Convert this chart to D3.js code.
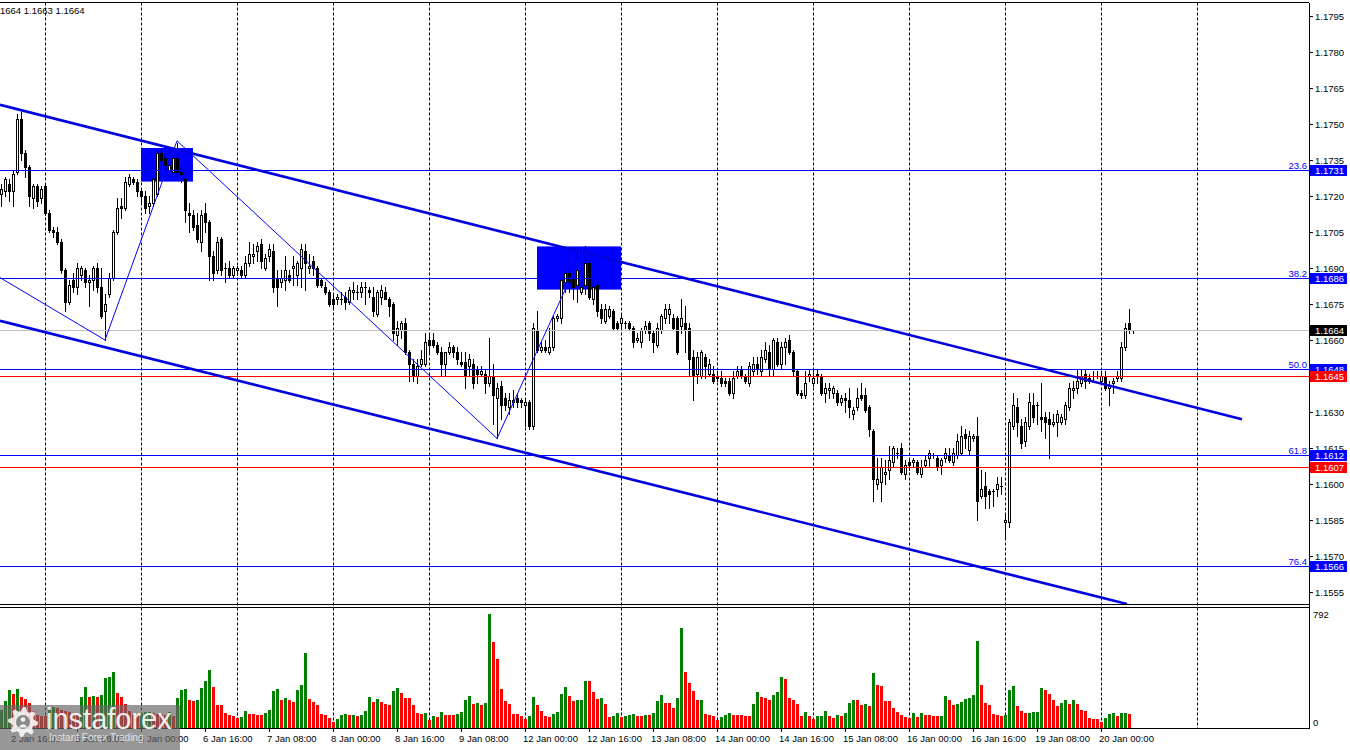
<!DOCTYPE html>
<html><head><meta charset="utf-8">
<script src="https://cdn.jsdelivr.net/npm/d3@7"></script>
<style>html,body{margin:0;padding:0;background:#fff;overflow:hidden}svg{display:block}text{font-family:"Liberation Sans",Arial,sans-serif}</style>
</head><body><svg id="c" width="1350" height="750"></svg>
<script>
// ---- DATA (EURUSD H1) ----
const open = [1.1721,1.1722,1.1725,1.1722,1.1730,1.1752,1.1738,1.1732,1.1719,1.1724,
1.1719,1.1724,1.1713,1.1706,1.1705,1.1701,1.1689,1.1676,1.1685,1.1682,
1.1687,1.1689,1.1684,1.1685,1.1690,1.1682,1.1672,1.1679,1.1686,1.1705,
1.1716,1.1715,1.1725,1.1727,1.1726,1.1722,1.1720,1.1716,1.1717,1.1721,
1.1738,1.1736,1.1731,1.1730,1.1736,1.1730,1.1727,1.1713,1.1712,1.1708,
1.1701,1.1713,1.1709,1.1695,1.1689,1.1702,1.1690,1.1690,1.1687,1.1689,
1.1689,1.1687,1.1692,1.1695,1.1697,1.1700,1.1690,1.1695,1.1697,1.1686,
1.1684,1.1685,1.1687,1.1690,1.1687,1.1690,1.1697,1.1690,1.1693,1.1690,
1.1685,1.1682,1.1680,1.1677,1.1677,1.1677,1.1678,1.1676,1.1680,1.1680,
1.1680,1.1682,1.1681,1.1678,1.1671,1.1678,1.1680,1.1677,1.1675,1.1662,
1.1664,1.1667,1.1655,1.1650,1.1645,1.1650,1.1650,1.1660,1.1660,1.1658,
1.1655,1.1650,1.1655,1.1657,1.1655,1.1651,1.1651,1.1649,1.1650,1.1648,
1.1646,1.1646,1.1642,1.1645,1.1636,1.1641,1.1636,1.1632,1.1634,1.1636,
1.1635,1.1633,1.1634,1.1624,1.1664,1.1656,1.1657,1.1655,1.1657,1.1669,
1.1669,1.1684,1.1688,1.1686,1.1683,1.1680,1.1683,1.1692,1.1677,1.1683,
1.1673,1.1668,1.1670,1.1672,1.1667,1.1667,1.1667,1.1667,1.1665,1.1660,
1.1659,1.1664,1.1667,1.1663,1.1658,1.1664,1.1669,1.1671,1.1669,1.1669,
1.1666,1.1667,1.1665,1.1653,1.1646,1.1645,1.1653,1.1646,1.1646,1.1645,
1.1644,1.1643,1.1643,1.1638,1.1645,1.1648,1.1645,1.1642,1.1647,1.1650,
1.1647,1.1652,1.1655,1.1648,1.1659,1.1650,1.1657,1.1660,1.1655,1.1647,
1.1638,1.1637,1.1645,1.1642,1.1646,1.1645,1.1638,1.1639,1.1638,1.1638,
1.1634,1.1636,1.1635,1.1629,1.1632,1.1637,1.1637,1.1632,1.1622,1.1600,
1.1601,1.1604,1.1606,1.1609,1.1613,1.1615,1.1604,1.1609,1.1609,1.1609,
1.1604,1.1608,1.1611,1.1612,1.1611,1.1608,1.1611,1.1612,1.1609,1.1612,
1.1613,1.1621,1.1614,1.1619,1.1620,1.1595,1.1599,1.1597,1.1597,1.1598,
1.1599,1.1584,1.1584,1.1624,1.1632,1.1624,1.1618,1.1624,1.1633,1.1633,
1.1628,1.1628,1.1627,1.1625,1.1626,1.1626,1.1627,1.1632,1.1639,1.1640,
1.1642,1.1646,1.1644,1.1645,1.1645,1.1643,1.1645,1.1640,1.1642,1.1644,
1.1644,1.1657,1.1667,1.1664];
const high = [1.1725,1.1728,1.1727,1.1731,1.1754,1.1755,1.1739,1.1733,1.1725,1.1725,
1.1724,1.1725,1.1714,1.1707,1.1707,1.1702,1.1690,1.1685,1.1688,1.1692,
1.1691,1.1690,1.1687,1.1691,1.1692,1.1690,1.1679,1.1688,1.1706,1.1719,
1.1719,1.1728,1.1729,1.1728,1.1727,1.1723,1.1722,1.1720,1.1728,1.1739,
1.1740,1.1738,1.1736,1.1737,1.1742,1.1733,1.1728,1.1717,1.1714,1.1713,
1.1714,1.1717,1.1710,1.1697,1.1703,1.1703,1.1692,1.1693,1.1691,1.1691,
1.1691,1.1695,1.1701,1.1700,1.1701,1.1702,1.1696,1.1700,1.1700,1.1689,
1.1689,1.1695,1.1689,1.1695,1.1693,1.1700,1.1700,1.1696,1.1695,1.1691,
1.1686,1.1684,1.1681,1.1679,1.1679,1.1680,1.1680,1.1682,1.1684,1.1683,
1.1684,1.1684,1.1682,1.1682,1.1681,1.1683,1.1682,1.1678,1.1676,1.1668,
1.1668,1.1669,1.1656,1.1652,1.1652,1.1656,1.1663,1.1663,1.1663,1.1659,
1.1657,1.1655,1.1659,1.1658,1.1657,1.1655,1.1655,1.1654,1.1652,1.1649,
1.1649,1.1648,1.1661,1.1650,1.1642,1.1643,1.1638,1.1638,1.1639,1.1638,
1.1636,1.1636,1.1635,1.1667,1.1672,1.1659,1.1660,1.1665,1.1670,1.1671,
1.1686,1.1692,1.1696,1.1692,1.1697,1.1684,1.1699,1.1693,1.1685,1.1684,
1.1675,1.1675,1.1674,1.1673,1.1668,1.1671,1.1668,1.1668,1.1666,1.1663,
1.1665,1.1668,1.1668,1.1664,1.1667,1.1671,1.1675,1.1675,1.1671,1.1670,
1.1677,1.1674,1.1667,1.1656,1.1655,1.1656,1.1654,1.1652,1.1649,1.1647,
1.1647,1.1644,1.1644,1.1647,1.1649,1.1649,1.1646,1.1651,1.1653,1.1653,
1.1656,1.1659,1.1658,1.1661,1.1661,1.1659,1.1661,1.1662,1.1656,1.1648,
1.1639,1.1647,1.1648,1.1648,1.1648,1.1646,1.1642,1.1642,1.1641,1.1639,
1.1637,1.1638,1.1640,1.1632,1.1640,1.1642,1.1640,1.1633,1.1623,1.1611,
1.1611,1.1610,1.1616,1.1616,1.1615,1.1617,1.1610,1.1610,1.1611,1.1610,
1.1610,1.1612,1.1614,1.1613,1.1612,1.1611,1.1615,1.1615,1.1615,1.1621,
1.1624,1.1623,1.1622,1.1621,1.1628,1.1606,1.1605,1.1598,1.1598,1.1603,
1.1603,1.1588,1.1627,1.1638,1.1636,1.1627,1.1628,1.1638,1.1638,1.1634,
1.1642,1.1630,1.1630,1.1629,1.1631,1.1629,1.1634,1.1642,1.1643,1.1648,
1.1648,1.1648,1.1646,1.1647,1.1647,1.1647,1.1647,1.1643,1.1644,1.1647,
1.1659,1.1667,1.1673,1.1664];
const low = [1.1716,1.1720,1.1718,1.1716,1.1729,1.1735,1.1728,1.1716,1.1715,1.1716,
1.1717,1.1712,1.1705,1.1703,1.1700,1.1688,1.1672,1.1675,1.1680,1.1679,
1.1685,1.1682,1.1674,1.1681,1.1680,1.1669,1.1660,1.1678,1.1685,1.1704,
1.1711,1.1714,1.1724,1.1725,1.1720,1.1717,1.1713,1.1713,1.1716,1.1720,
1.1732,1.1731,1.1729,1.1729,1.1729,1.1726,1.1709,1.1705,1.1706,1.1701,
1.1697,1.1705,1.1685,1.1685,1.1688,1.1687,1.1684,1.1686,1.1686,1.1687,
1.1686,1.1686,1.1691,1.1692,1.1693,1.1690,1.1689,1.1693,1.1680,1.1674,
1.1682,1.1681,1.1684,1.1683,1.1683,1.1682,1.1681,1.1688,1.1687,1.1682,
1.1682,1.1679,1.1674,1.1673,1.1675,1.1675,1.1673,1.1675,1.1677,1.1677,
1.1678,1.1675,1.1678,1.1670,1.1670,1.1675,1.1677,1.1670,1.1660,1.1658,
1.1661,1.1654,1.1643,1.1643,1.1642,1.1649,1.1649,1.1654,1.1657,1.1654,
1.1645,1.1645,1.1654,1.1653,1.1650,1.1649,1.1640,1.1645,1.1640,1.1642,
1.1645,1.1638,1.1641,1.1625,1.1619,1.1627,1.1631,1.1629,1.1632,1.1632,
1.1632,1.1624,1.1623,1.1623,1.1655,1.1655,1.1655,1.1654,1.1656,1.1668,
1.1667,1.1680,1.1680,1.1677,1.1676,1.1679,1.1679,1.1677,1.1675,1.1670,
1.1667,1.1667,1.1669,1.1664,1.1664,1.1665,1.1665,1.1664,1.1657,1.1659,
1.1657,1.1663,1.1660,1.1655,1.1657,1.1663,1.1667,1.1667,1.1664,1.1654,
1.1663,1.1655,1.1645,1.1635,1.1642,1.1644,1.1644,1.1645,1.1642,1.1643,
1.1641,1.1641,1.1637,1.1636,1.1644,1.1644,1.1642,1.1641,1.1645,1.1646,
1.1645,1.1651,1.1645,1.1645,1.1649,1.1648,1.1650,1.1654,1.1645,1.1637,
1.1636,1.1636,1.1643,1.1641,1.1642,1.1637,1.1634,1.1636,1.1636,1.1633,
1.1633,1.1630,1.1628,1.1627,1.1631,1.1635,1.1630,1.1620,1.1593,1.1598,
1.1593,1.1600,1.1602,1.1607,1.1611,1.1604,1.1602,1.1606,1.1607,1.1604,
1.1603,1.1607,1.1607,1.1611,1.1606,1.1604,1.1609,1.1609,1.1608,1.1611,
1.1612,1.1615,1.1612,1.1618,1.1585,1.1594,1.1590,1.1590,1.1591,1.1595,
1.1596,1.1578,1.1582,1.1623,1.1620,1.1615,1.1616,1.1623,1.1626,1.1625,
1.1622,1.1619,1.1611,1.1624,1.1620,1.1625,1.1625,1.1631,1.1636,1.1638,
1.1641,1.1640,1.1642,1.1643,1.1644,1.1642,1.1639,1.1633,1.1638,1.1643,
1.1643,1.1656,1.1663,1.1663];
const close = [1.1723,1.1727,1.1722,1.1729,1.1752,1.1738,1.1732,1.1720,1.1724,1.1718,
1.1723,1.1713,1.1706,1.1705,1.1701,1.1689,1.1676,1.1683,1.1682,1.1690,
1.1690,1.1684,1.1685,1.1690,1.1682,1.1670,1.1675,1.1686,1.1705,1.1715,
1.1715,1.1726,1.1728,1.1726,1.1722,1.1720,1.1715,1.1717,1.1727,1.1738,
1.1735,1.1733,1.1733,1.1736,1.1730,1.1729,1.1714,1.1712,1.1707,1.1702,
1.1712,1.1709,1.1695,1.1688,1.1701,1.1689,1.1690,1.1687,1.1690,1.1690,
1.1687,1.1692,1.1696,1.1696,1.1699,1.1693,1.1694,1.1698,1.1682,1.1682,
1.1686,1.1689,1.1685,1.1691,1.1692,1.1698,1.1692,1.1691,1.1690,1.1683,
1.1683,1.1680,1.1675,1.1675,1.1678,1.1677,1.1676,1.1681,1.1681,1.1680,
1.1682,1.1682,1.1680,1.1672,1.1680,1.1681,1.1677,1.1674,1.1663,1.1665,
1.1667,1.1655,1.1650,1.1645,1.1649,1.1652,1.1659,1.1658,1.1658,1.1655,
1.1650,1.1655,1.1657,1.1655,1.1652,1.1650,1.1645,1.1652,1.1642,1.1646,
1.1647,1.1642,1.1645,1.1637,1.1640,1.1633,1.1633,1.1635,1.1635,1.1634,
1.1634,1.1634,1.1624,1.1665,1.1656,1.1657,1.1656,1.1657,1.1669,1.1670,
1.1685,1.1688,1.1684,1.1682,1.1689,1.1682,1.1692,1.1678,1.1682,1.1672,
1.1669,1.1673,1.1673,1.1665,1.1665,1.1669,1.1667,1.1665,1.1659,1.1661,
1.1664,1.1666,1.1663,1.1659,1.1665,1.1670,1.1673,1.1673,1.1665,1.1655,
1.1669,1.1664,1.1652,1.1645,1.1653,1.1655,1.1649,1.1650,1.1643,1.1644,
1.1642,1.1642,1.1638,1.1644,1.1647,1.1645,1.1643,1.1649,1.1650,1.1648,
1.1653,1.1656,1.1648,1.1660,1.1650,1.1657,1.1659,1.1655,1.1647,1.1638,
1.1637,1.1642,1.1646,1.1644,1.1645,1.1638,1.1640,1.1640,1.1640,1.1634,
1.1636,1.1635,1.1632,1.1631,1.1636,1.1636,1.1631,1.1623,1.1602,1.1602,
1.1607,1.1605,1.1610,1.1615,1.1613,1.1605,1.1608,1.1608,1.1610,1.1605,
1.1607,1.1610,1.1613,1.1612,1.1607,1.1610,1.1613,1.1610,1.1613,1.1618,
1.1620,1.1619,1.1620,1.1620,1.1593,1.1598,1.1595,1.1596,1.1597,1.1600,
1.1599,1.1585,1.1626,1.1633,1.1626,1.1617,1.1626,1.1634,1.1628,1.1633,
1.1627,1.1626,1.1625,1.1626,1.1629,1.1628,1.1633,1.1640,1.1640,1.1643,
1.1645,1.1643,1.1643,1.1645,1.1645,1.1645,1.1640,1.1641,1.1643,1.1645,
1.1657,1.1665,1.1664,1.1664];
const volume = [127,185,266,238,273,215,203,173,120,92,85,81,127,143,139,127,116,109,99,92,
217,286,217,224,217,231,344,351,386,245,217,169,116,92,92,104,109,111,104,99,
97,92,111,85,210,261,273,192,190,196,280,328,404,286,162,160,106,92,85,72,
79,120,99,98,92,91,106,127,259,273,196,210,192,182,266,300,522,203,182,162,
99,92,72,44,65,92,94,92,93,81,92,120,217,182,203,181,169,162,259,280,
245,210,209,162,106,99,106,58,85,79,113,92,91,90,99,109,192,224,169,176,
162,176,792,598,480,273,189,169,99,98,85,65,85,217,162,120,85,79,99,113,
238,286,224,189,196,198,328,327,252,203,210,169,79,85,106,79,85,92,99,85,
84,92,91,106,189,231,176,175,141,210,695,390,314,259,196,198,99,92,85,58,
79,92,106,92,91,90,85,84,169,252,217,210,196,231,252,356,342,210,196,169,
85,113,85,65,85,86,120,85,72,92,85,106,176,196,195,162,169,155,383,300,
293,189,188,141,113,92,79,72,106,79,106,92,91,85,84,86,224,196,162,169,
182,203,210,231,605,300,176,162,99,92,85,92,266,293,155,120,106,107,113,114,
280,266,238,196,155,176,196,169,196,169,127,120,72,65,64,44,72,99,106,85,
106,107,99,3];
const priceTicks = [1.1795,1.1780,1.1765,1.1750,1.1735,1.1720,1.1705,1.1690,1.1675,1.1660,1.1645,1.1630,1.1615,1.1600,1.1585,1.1570,1.1555];
const timeTickLabels = ["2 Jan 16:00","5 Jan 08:00","6 Jan 00:00","6 Jan 16:00","7 Jan 08:00","8 Jan 00:00","8 Jan 16:00","9 Jan 08:00","12 Jan 00:00","12 Jan 16:00","13 Jan 08:00","14 Jan 00:00","14 Jan 16:00","15 Jan 08:00","16 Jan 00:00","16 Jan 16:00","19 Jan 08:00","20 Jan 00:00"];
const fibPrices = [1.1731,1.1686,1.1648,1.1612,1.1566];
const fibLabels = ["23.6","38.2","50.0","61.8","76.4"];
const redLevels = [1.1645,1.1607];
const bidPrice = 1.1664;
const volTicks = [792,0];
const zoneStart = [35,134], zoneEnd = [48,155], zoneTop = [1.1740,1.1699], zoneBottom = [1.1726,1.1681];
const channelUpper = [[-0.25,1.1758],[310.25,1.1627]];
const channelLower = [[-0.25,1.1668],[281.5,1.1550]];
const zigzag = [[-0.25,1.1686],[26,1.1660],[44,1.1743],[124,1.1619],[146,1.1699]];
const header = "1664 1.1663 1.1664";

// ---- LAYOUT ----
const AX = 1309, TOP = 2.5, MB = 604.5, VT = 607.5, VB = 728.5, FS = 9.5;
const svg = d3.select("#c");
const x = d3.scaleLinear().domain([0,283]).range([1,1133]);
const y = d3.scaleLinear().domain([1.1555,1.1795]).range([592,16]);
const yv = d3.scaleLinear().domain([0,792]).range([728,614]);

const times = []; let t = Date.UTC(2026,0,2,13);
while (times.length < 312) { const d = new Date(t); const wd = d.getUTCDay(); if (wd !== 0 && wd !== 6) times.push(d); t += 3600000; }
const fmt = d3.utcFormat("%-d %b %H:%M");
const dayIdx = d3.range(times.length).filter(i => times[i].getUTCHours() === 0 && x(i) < 1250);

svg.append("defs").append("clipPath").attr("id","mainclip").append("rect").attr("x",0).attr("y",TOP).attr("width",AX).attr("height",MB-TOP);

// vertical dashed grid
svg.append("g").selectAll("line").data(dayIdx).join("line")
  .attr("x1",i=>Math.round(x(i))+0.5).attr("x2",i=>Math.round(x(i))+0.5)
  .attr("y1",TOP).attr("y2",VB).attr("stroke","#000").attr("stroke-width",1).attr("stroke-dasharray","3,2");

const main = svg.append("g").attr("clip-path","url(#mainclip)");
main.append("g").selectAll("rect").data(zoneStart).join("rect")
  .attr("x",(d,k)=>x(zoneStart[k])).attr("width",(d,k)=>x(zoneEnd[k])-x(zoneStart[k]))
  .attr("y",(d,k)=>y(zoneTop[k])).attr("height",(d,k)=>y(zoneBottom[k])-y(zoneTop[k]))
  .attr("fill","#0000ff");

// candles
const cg = main.append("g").attr("shape-rendering","crispEdges");
close.forEach((c,i)=>{
  const o = open[i], h = Math.max(high[i],o,c), l = Math.min(low[i],o,c);
  const cx = Math.round(x(i));
  const ty = Math.round(y(h)), by = Math.round(y(l));
  cg.append("rect").attr("x",cx).attr("y",ty).attr("width",1).attr("height",by-ty+1).attr("fill","#000");
  const bt = Math.round(y(Math.max(o,c))), bb = Math.round(y(Math.min(o,c)));
  cg.append("rect").attr("x",cx-1).attr("y",bt).attr("width",3).attr("height",Math.max(1,bb-bt+1)).attr("fill","#000");
  if (c > o && bb-bt-1 > 0) cg.append("rect").attr("x",cx).attr("y",bt+1).attr("width",1).attr("height",bb-bt-1).attr("fill","#fff");
});

// horizontal levels (1px rects)
const lg = main.append("g").attr("shape-rendering","crispEdges");
function hline(p,col){ lg.append("rect").attr("x",0).attr("width",AX).attr("y",Math.round(y(p))).attr("height",1).attr("fill",col); }
hline(bidPrice,"#c0c0c0");
fibPrices.forEach(p=>hline(p,"#0000ff"));
redLevels.forEach(p=>hline(p,"#ff0000"));

// channel + zigzag
const line = d3.line().x(d=>x(d[0])).y(d=>y(d[1]));
main.append("path").attr("d",line(channelUpper)).attr("stroke","#0000e0").attr("stroke-width",2.6).attr("fill","none");
main.append("path").attr("d",line(channelLower)).attr("stroke","#0000e0").attr("stroke-width",2.6).attr("fill","none");
main.append("path").attr("d",line(zigzag)).attr("stroke","#0000ff").attr("stroke-width",1).attr("fill","none");

fibPrices.forEach((p,k)=>svg.append("text").attr("x",1307).attr("y",Math.round(y(p))-1.5).attr("text-anchor","end")
  .attr("font-size",FS).attr("fill","#0000ff").text(fibLabels[k]));

// volume bars
const vg = svg.append("g").attr("shape-rendering","crispEdges");
volume.forEach((v,i)=>{
  const cx = Math.round(x(i)); const top = Math.round(yv(v));
  vg.append("rect").attr("x",cx-1).attr("y",top).attr("width",3).attr("height",Math.max(1,728-top))
    .attr("fill", (i===0 || v>volume[i-1]) ? "#008000" : "#ff0000");
});

// frames
const fr = svg.append("g").attr("stroke","#000").attr("shape-rendering","crispEdges");
fr.append("line").attr("x1",0).attr("x2",AX).attr("y1",TOP).attr("y2",TOP);
fr.append("line").attr("x1",0).attr("x2",AX).attr("y1",MB).attr("y2",MB);
fr.append("line").attr("x1",0).attr("x2",AX).attr("y1",VT).attr("y2",VT);
fr.append("line").attr("x1",0).attr("x2",AX).attr("y1",VB).attr("y2",VB);
fr.append("line").attr("x1",AX+0.5).attr("x2",AX+0.5).attr("y1",TOP).attr("y2",VB);

// price axis
const pa = svg.append("g");
priceTicks.forEach(p=>{
  const yy = Math.round(y(p))+0.5;
  pa.append("line").attr("x1",AX).attr("x2",AX+4).attr("y1",yy).attr("y2",yy).attr("stroke","#000").attr("shape-rendering","crispEdges");
  pa.append("text").attr("x",1315).attr("y",yy+3.4).attr("font-size",FS).attr("fill","#000").text(p.toFixed(4));
});
volTicks.forEach(v=>{
  pa.append("text").attr("x",1313).attr("y",(v===0?722.5:614.5)+3.4).attr("font-size",FS).attr("fill","#000").text(v);
});
function tag(p,bg){
  const yy = Math.round(y(p));
  pa.append("rect").attr("x",1310).attr("y",yy-5).attr("width",37).attr("height",11).attr("fill",bg);
  pa.append("text").attr("x",1315).attr("y",yy+3.8).attr("font-size",FS).attr("fill","#fff").text(p.toFixed(4));
}
fibPrices.forEach(p=>tag(p,"#0000ff"));
redLevels.forEach(p=>tag(p,"#ff0000"));
tag(bidPrice,"#000000");

// time axis
const ta = svg.append("g");
timeTickLabels.forEach(lbl=>{
  const i = times.findIndex(d=>fmt(d)===lbl);
  if (i < 0) return;
  const xx = Math.round(x(i));
  ta.append("line").attr("x1",xx+0.5).attr("x2",xx+0.5).attr("y1",VB).attr("y2",VB+3).attr("stroke","#000").attr("shape-rendering","crispEdges");
  ta.append("text").attr("x",xx-2).attr("y",742).attr("font-size",FS).attr("fill","#000").text(lbl);
});

svg.append("text").attr("x",0).attr("y",14).attr("font-size",FS).attr("fill","#000").text(header);

// watermark
const wm = svg.append("g");
wm.append("rect").attr("x",0).attr("y",705).attr("width",180).attr("height",45).attr("fill","#666").attr("opacity",0.68);
const gear = wm.append("g").attr("transform","translate(23,722)");
const nT = 8, pts = [];
for (let k=0;k<nT*4;k++){ const a = k*2*Math.PI/(nT*4); const r = (k%4<2)?15:11; pts.push([r*Math.cos(a),r*Math.sin(a)]); }
gear.append("path").attr("d",d3.line().curve(d3.curveLinearClosed)(pts)).attr("fill","#fff").attr("opacity",0.85);
gear.append("circle").attr("r",7).attr("fill","#8a8a8a");
gear.append("circle").attr("cy",-2.5).attr("r",2.3).attr("fill","#fff").attr("opacity",0.9);
gear.append("path").attr("d","M-4.5,5.5 Q0,-1 4.5,5.5 Z").attr("fill","#fff").attr("opacity",0.9);
wm.append("text").attr("x",46).attr("y",729).attr("font-size",29).attr("fill","#fff").attr("opacity",0.88).text("instaforex");
wm.append("text").attr("x",49).attr("y",741).attr("font-size",10).attr("fill","#f0f0f0").attr("opacity",0.85).text("Instant Forex Trading");
</script>
</body></html>
